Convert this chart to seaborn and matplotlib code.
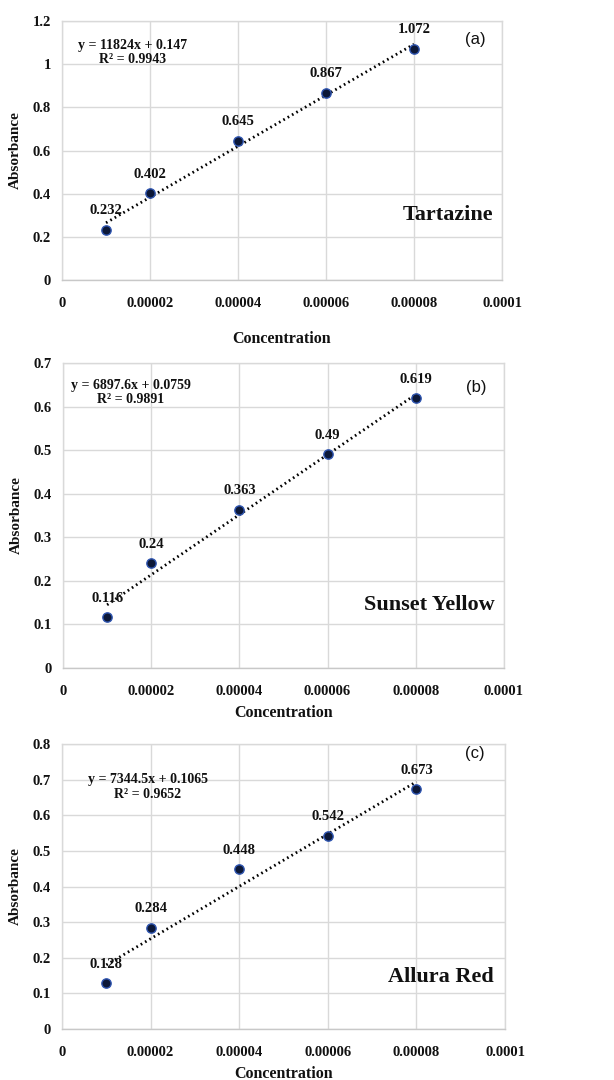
import numpy as np
import pandas as pd
import matplotlib
matplotlib.use("Agg")
import matplotlib.pyplot as plt
import seaborn as sns

# ---- data ----
concentration = [0.00001, 0.00002, 0.00004, 0.00006, 0.00008]
tartazine = [0.232, 0.402, 0.645, 0.867, 1.072]
sunset_yellow = [0.116, 0.24, 0.363, 0.49, 0.619]
allura_red = [0.128, 0.284, 0.448, 0.542, 0.673]

names = ["Tartazine", "Sunset Yellow", "Allura Red"]
panel_tags = ["(a)", "(b)", "(c)"]
equations = ["y = 11824x + 0.147\nR² = 0.9943",
             "y = 6897.6x + 0.0759\nR² = 0.9891",
             "y = 7344.5x + 0.1065\nR² = 0.9652"]
point_labels = [["0.232", "0.402", "0.645", "0.867", "1.072"],
                ["0.116", "0.24", "0.363", "0.49", "0.619"],
                ["0.128", "0.284", "0.448", "0.542", "0.673"]]

x_ticks = [0, 0.00002, 0.00004, 0.00006, 0.00008, 0.0001]
x_tick_labels = ["0", "0.00002", "0.00004", "0.00006", "0.00008", "0.0001"]
y_ticks = [[0, 0.2, 0.4, 0.6, 0.8, 1.0, 1.2],
           [0, 0.1, 0.2, 0.3, 0.4, 0.5, 0.6, 0.7],
           [0, 0.1, 0.2, 0.3, 0.4, 0.5, 0.6, 0.7, 0.8]]
y_tick_labels = [["0", "0.2", "0.4", "0.6", "0.8", "1", "1.2"],
                 ["0", "0.1", "0.2", "0.3", "0.4", "0.5", "0.6", "0.7"],
                 ["0", "0.1", "0.2", "0.3", "0.4", "0.5", "0.6", "0.7", "0.8"]]

series = [tartazine, sunset_yellow, allura_red]

# ---- style ----
sns.set_theme(style="whitegrid")
plt.rcParams['font.family'] = ['Liberation Serif', 'DejaVu Serif']
plt.rcParams['font.weight'] = 'bold'

fig = plt.figure(figsize=(6.14, 10.8), dpi=100)

# axes rectangles [left, bottom, width, height]
rects = [[0.101, 0.7407, 0.7166, 0.2398],
         [0.1026, 0.3815, 0.718, 0.2824],
         [0.101, 0.0472, 0.7215, 0.2639]]
eq_pos = [(0.16, 0.878), (0.154, 0.903), (0.193, 0.849)]
tag_pos = [(0.94, 0.927), (0.937, 0.921), (0.932, 0.968)]
name_pos = [(0.98, 0.251), (0.98, 0.207), (0.975, 0.182)]
xlabel_pad = [15, 5, 5]

grid_c = "#d9d9d9"
txt_c = "#111111"
for i in range(3):
    ax = fig.add_axes(rects[i])
    df = pd.DataFrame({"Concentration": concentration, "Absorbance": series[i]})
    # trendline (least squares linear fit)
    sns.regplot(data=df, x="Concentration", y="Absorbance", ax=ax, scatter=False,
                ci=None, truncate=True,
                line_kws=dict(color="black", lw=2.0, linestyle=(0, (0.6, 1.2))))
    sns.scatterplot(data=df, x="Concentration", y="Absorbance", ax=ax,
                    color="#0c1838", edgecolor="#2f55b0", linewidth=1.0, s=45, zorder=5)
    for xv, yv, lab in zip(concentration, series[i], point_labels[i]):
        ax.annotate(lab, (xv, yv), xytext=(0, 9), textcoords="offset points",
                    ha="center", va="bottom", fontsize=10.5, fontweight="bold",
                    color=txt_c, zorder=6)
    ax.set_xlim(0, 0.0001)
    ax.set_ylim(y_ticks[i][0], y_ticks[i][-1])
    ax.set_xticks(x_ticks)
    ax.set_xticklabels(x_tick_labels)
    ax.set_yticks(y_ticks[i])
    ax.set_yticklabels(y_tick_labels[i])
    ax.tick_params(axis="x", length=0, pad=12, labelsize=10.5, labelcolor=txt_c)
    ax.tick_params(axis="y", length=0, pad=8, labelsize=10.5, labelcolor=txt_c)
    for lab in ax.get_xticklabels() + ax.get_yticklabels():
        lab.set_fontweight("bold")
    ax.grid(True, color=grid_c, lw=1.0)
    for sp in ax.spines.values():
        sp.set_color(grid_c)
        sp.set_linewidth(1.0)
    ax.spines["bottom"].set_color("#c8c8c8")
    ax.set_xlabel("Concentration", fontsize=11.5, fontweight="bold",
                  color=txt_c, labelpad=xlabel_pad[i])
    ax.set_ylabel("Absorbance", fontsize=11, fontweight="bold",
                  color=txt_c, labelpad=8)
    ax.text(eq_pos[i][0], eq_pos[i][1], equations[i], transform=ax.transAxes,
            ha="center", va="center", fontsize=10, fontweight="bold",
            color=txt_c, linespacing=1.15)
    ax.text(tag_pos[i][0], tag_pos[i][1], panel_tags[i], transform=ax.transAxes,
            ha="center", va="center", fontsize=12, fontweight="normal",
            family=["Liberation Sans", "DejaVu Sans"], color=txt_c)
    ax.text(name_pos[i][0], name_pos[i][1], names[i], transform=ax.transAxes,
            ha="right", va="center", fontsize=16, fontweight="bold",
            color=txt_c, zorder=6)

fig.savefig("out.png", dpi=100, facecolor="white")
